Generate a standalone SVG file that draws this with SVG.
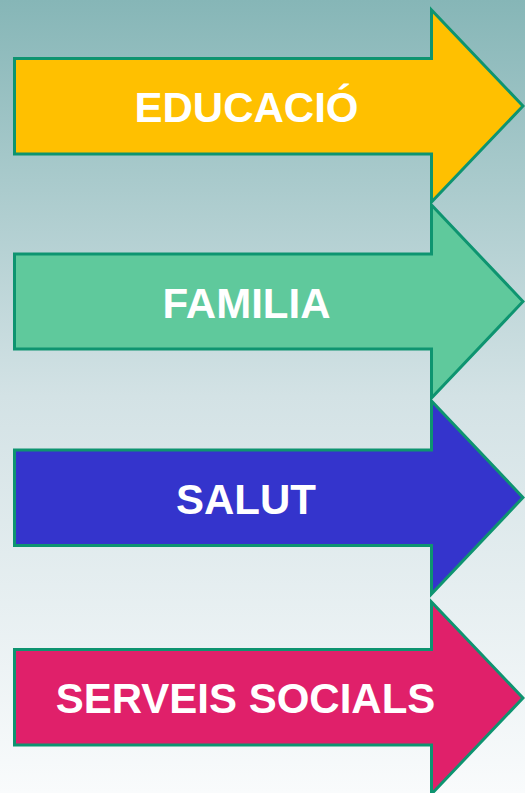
<svg xmlns="http://www.w3.org/2000/svg" width="525" height="793" viewBox="0 0 525 793">
<defs>
<linearGradient id="bg" x1="0" y1="0" x2="0" y2="1">
<stop offset="0" stop-color="#86B6B7"/>
<stop offset="0.5" stop-color="#D3E2E5"/>
<stop offset="1" stop-color="#F9FBFC"/>
</linearGradient>
<style>
.arrow{stroke:#0E9470;stroke-width:3;stroke-linejoin:miter}
.lbl{font-family:"Liberation Sans",Arial,sans-serif;font-weight:bold;font-size:42px;fill:#FFFFFF;text-anchor:middle}
</style>
</defs>
<rect x="0" y="0" width="525" height="793" fill="url(#bg)"/>
<g id="connectors"/>
<g id="educacio">
<polygon class="arrow" fill="#FFC000" points="14.5,58.5 431.5,58.5 431.5,10 523,106 431.5,202 431.5,154 14.5,154"/>
<text class="lbl" x="246.5" y="122">EDUCACIÓ</text>
</g>
<g id="familia">
<polygon class="arrow" fill="#5FC99C" points="14.5,254 431.5,254 431.5,205 523,301.5 431.5,398 431.5,349 14.5,349"/>
<text class="lbl" x="246.5" y="318">FAMILIA</text>
</g>
<g id="salut">
<polygon class="arrow" fill="#3434CC" points="14.5,450 431.5,450 431.5,401 523,497.5 431.5,594 431.5,545.5 14.5,545.5"/>
<text class="lbl" x="246" y="514">SALUT</text>
</g>
<g id="serveis-socials">
<polygon class="arrow" fill="#E0206A" points="14.5,649.5 431.5,649.5 431.5,602 523,698 431.5,794 431.5,745 14.5,745"/>
<text class="lbl" x="245.5" y="713">SERVEIS SOCIALS</text>
</g>
</svg>
